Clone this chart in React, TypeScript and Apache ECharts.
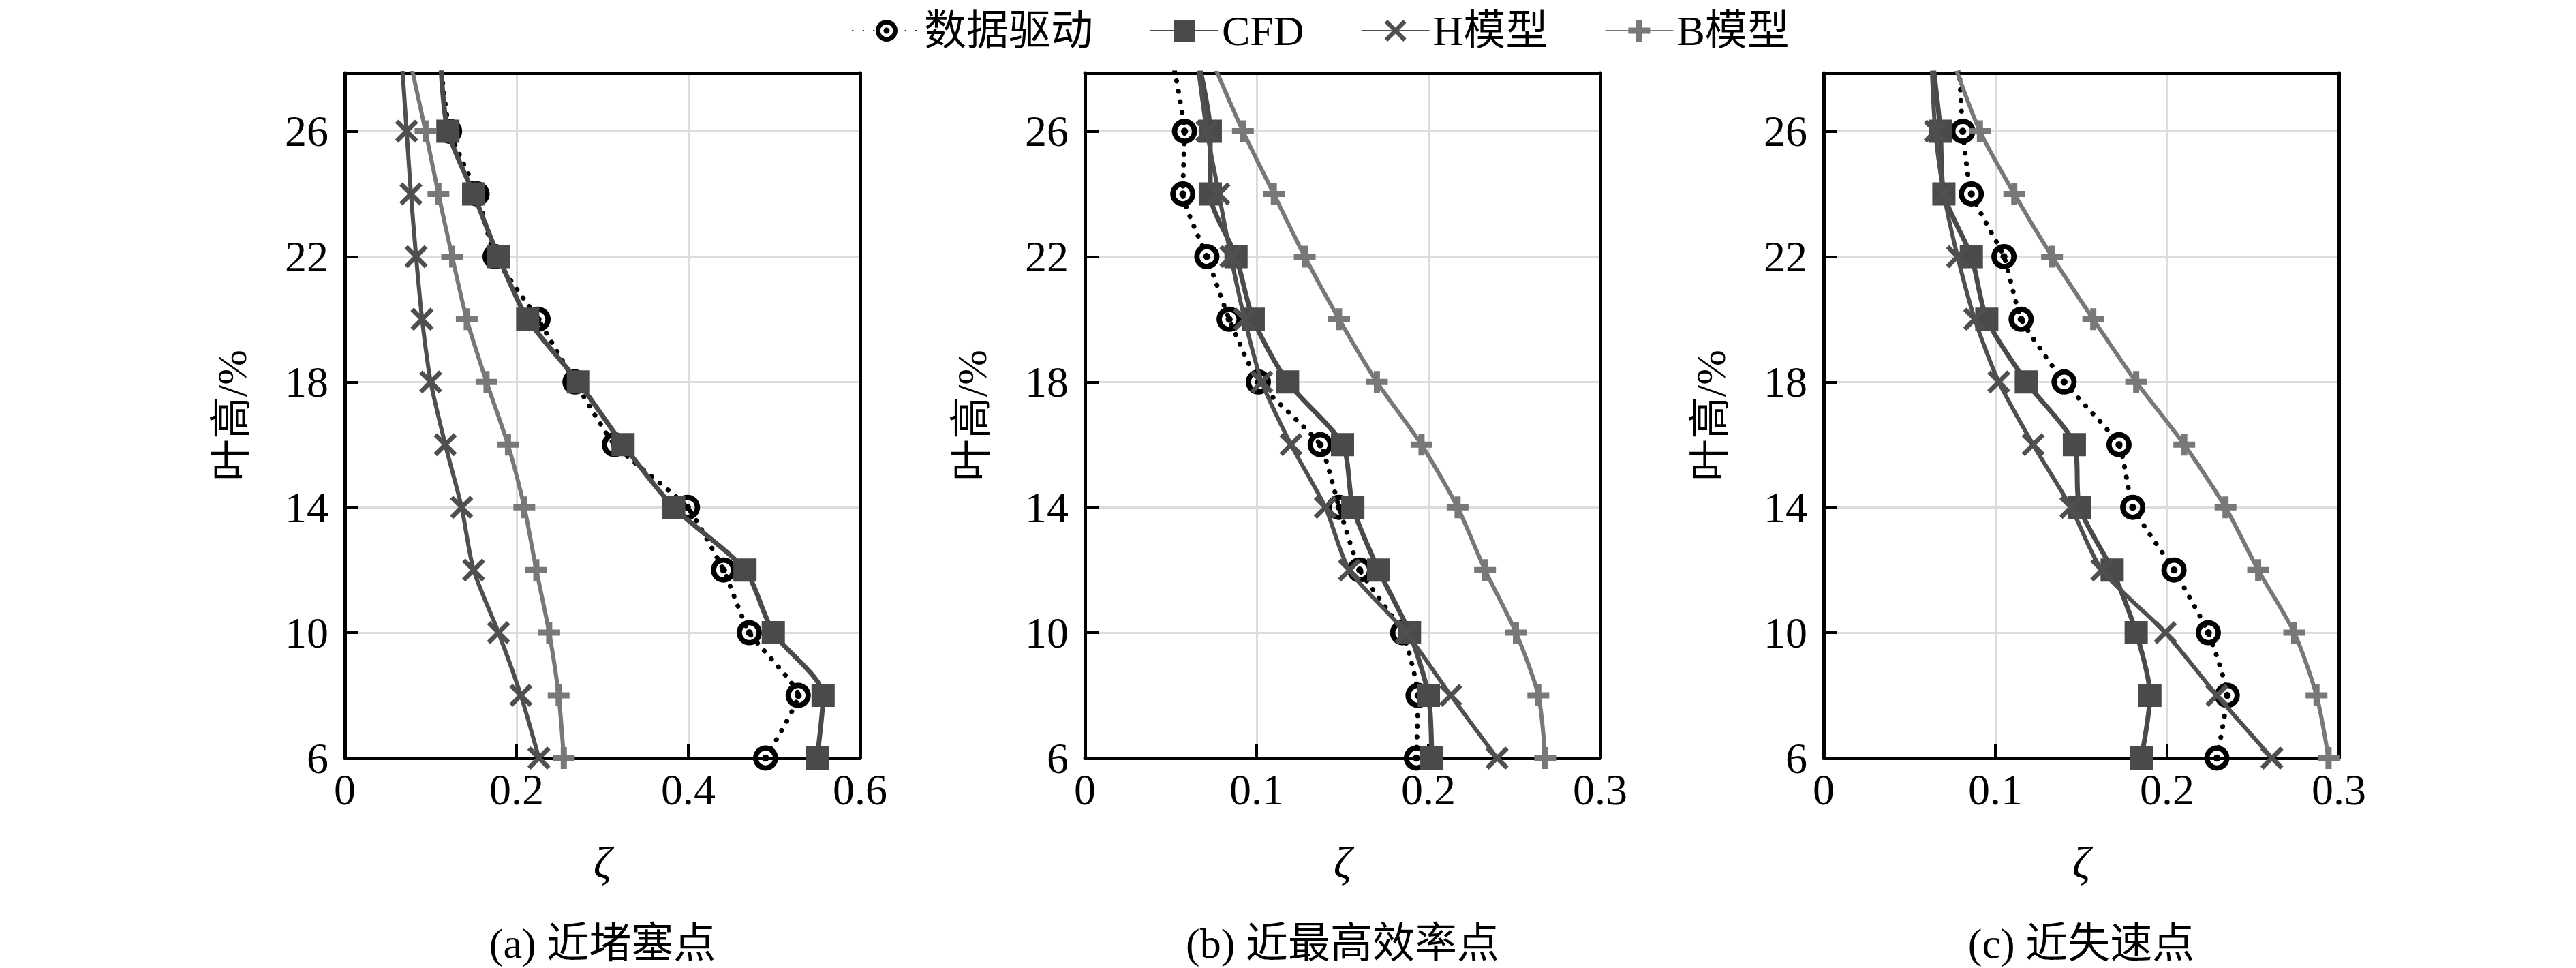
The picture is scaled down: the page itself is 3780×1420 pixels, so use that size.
import React, { useEffect, useRef } from 'react';
import * as echarts from 'echarts';

const heights = [6, 8, 10, 12, 14, 16, 18, 20, 22, 24, 26, 28];
const yTicks = [6, 10, 14, 18, 22, 26];
const seriesNames = ['数据驱动', 'CFD', 'H模型', 'B模型'];
const panelTitles = ['(a) 近堵塞点', '(b) 近最高效率点', '(c) 近失速点'];
const xMaxes = [0.6, 0.3, 0.3];
const xIntervals = [0.2, 0.1, 0.1];

// panel (a) 近堵塞点, values from 6% to 28% blade height
const aData = [0.490, 0.528, 0.471, 0.441, 0.399, 0.314, 0.268, 0.225, 0.175, 0.154, 0.122, 0.112];
const aCFD = [0.550, 0.557, 0.499, 0.466, 0.383, 0.324, 0.272, 0.213, 0.179, 0.150, 0.120, 0.112];
const aH = [0.226, 0.205, 0.179, 0.150, 0.136, 0.117, 0.100, 0.090, 0.083, 0.077, 0.072, 0.067];
const aB = [0.255, 0.249, 0.238, 0.223, 0.209, 0.190, 0.165, 0.142, 0.125, 0.109, 0.094, 0.078];

// panel (b) 近最高效率点
const bData = [0.193, 0.194, 0.185, 0.160, 0.148, 0.137, 0.101, 0.084, 0.071, 0.057, 0.058, 0.052];
const bCFD = [0.202, 0.200, 0.189, 0.171, 0.156, 0.150, 0.118, 0.098, 0.088, 0.073, 0.073, 0.067];
const bH = [0.240, 0.213, 0.187, 0.154, 0.140, 0.120, 0.103, 0.093, 0.085, 0.078, 0.071, 0.066];
const bB = [0.268, 0.264, 0.251, 0.233, 0.217, 0.196, 0.170, 0.148, 0.128, 0.110, 0.092, 0.076];

// panel (c) 近失速点
const cData = [0.229, 0.235, 0.224, 0.204, 0.180, 0.172, 0.140, 0.115, 0.105, 0.086, 0.081, 0.079];
const cCFD = [0.185, 0.190, 0.182, 0.168, 0.149, 0.146, 0.118, 0.095, 0.086, 0.070, 0.068, 0.064];
const cH = [0.261, 0.229, 0.199, 0.162, 0.144, 0.122, 0.102, 0.088, 0.078, 0.070, 0.065, 0.063];
const cB = [0.294, 0.287, 0.274, 0.253, 0.234, 0.210, 0.182, 0.157, 0.133, 0.111, 0.091, 0.077];

const panels = [
  [aData, aCFD, aH, aB],
  [bData, bCFD, bH, bB],
  [cData, cCFD, cH, cB],
];

const FONT = "'Liberation Serif', 'Times New Roman', 'Noto Sans CJK SC', serif";

const ringSymbol =
  'path://M10,0 A10,10 0 1,1 10,20 A10,10 0 1,1 10,0 Z ' +
  'M10,4.2 A5.8,5.8 0 1,0 10,15.8 A5.8,5.8 0 1,0 10,4.2 Z ' +
  'M10,7.2 A2.8,2.8 0 1,1 10,12.8 A2.8,2.8 0 1,1 10,7.2 Z';
const crossSymbol =
  'path://M0,1.4 L1.4,0 L5,3.6 L8.6,0 L10,1.4 L6.4,5 L10,8.6 L8.6,10 L5,6.4 L1.4,10 L0,8.6 L3.6,5 Z';
const plusSymbol =
  'path://M3.6,0 L6.4,0 L6.4,3.6 L10,3.6 L10,6.4 L6.4,6.4 L6.4,10 L3.6,10 L3.6,6.4 L0,6.4 L0,3.6 L3.6,3.6 Z';

const styles = [
  {
    symbol: ringSymbol,
    symbolSize: 37,
    color: '#000000',
    lineStyle: { color: '#000000', width: 7, type: [0.5, 15], cap: 'round' },
    smooth: 0.15,
  },
  {
    symbol: 'rect',
    symbolSize: 34,
    color: '#4a4a4a',
    lineStyle: { color: '#4a4a4a', width: 7, type: 'solid' },
    smooth: 0.25,
  },
  {
    symbol: crossSymbol,
    symbolSize: 34,
    color: '#4f4f4f',
    lineStyle: { color: '#4f4f4f', width: 6, type: 'solid' },
    smooth: 0.25,
  },
  {
    symbol: plusSymbol,
    symbolSize: 32,
    color: '#787878',
    lineStyle: { color: '#787878', width: 6, type: 'solid' },
    smooth: 0.25,
  },
];

const gridLefts = [506, 1592, 2676];
const gridTop = 107;
const gridWidth = 756;
const gridHeight = 1005;
const Y_MIN = 6;
const Y_MAX = 27.86;

export default function App() {
  const ref = useRef<HTMLDivElement>(null);

  useEffect(() => {
    if (!ref.current) return;
    const chart = echarts.init(ref.current, undefined, { renderer: 'svg' });

    const grids = gridLefts.map((left) => ({
      left,
      top: gridTop,
      width: gridWidth,
      height: gridHeight,
      show: false,
    }));

    const frameLine = { show: true, onZero: false, lineStyle: { color: '#000', width: 5 } };

    const xAxes: any[] = [];
    const yAxes: any[] = [];
    gridLefts.forEach((_, i) => {
      xAxes.push({
        type: 'value',
        gridIndex: i,
        position: 'bottom',
        min: 0,
        max: xMaxes[i],
        interval: xIntervals[i],
        axisLine: frameLine,
        axisTick: { show: true, inside: true, length: 20, lineStyle: { color: '#000', width: 4 } },
        axisLabel: { show: true, margin: 14, color: '#000', fontSize: 64, fontFamily: FONT },
        splitLine: { show: true, lineStyle: { color: '#dcdcdc', width: 3 } },
      });
      yAxes.push({
        type: 'value',
        gridIndex: i,
        position: 'left',
        min: Y_MIN,
        max: Y_MAX,
        name: '叶高/%',
        nameLocation: 'middle',
        nameRotate: 90,
        nameGap: 135,
        nameTextStyle: { color: '#000', fontSize: 62, fontFamily: FONT },
        axisLine: frameLine,
        axisTick: {
          show: true,
          inside: true,
          length: 20,
          customValues: yTicks,
          lineStyle: { color: '#000', width: 4 },
        },
        axisLabel: {
          show: true,
          margin: 24,
          customValues: yTicks,
          color: '#000',
          fontSize: 64,
          fontFamily: FONT,
        },
        splitLine: { show: true, lineStyle: { color: '#dcdcdc', width: 3 } },
      });
    });
    // frame axes (top and right borders)
    gridLefts.forEach((_, i) => {
      xAxes.push({
        type: 'value',
        gridIndex: i,
        position: 'top',
        min: 0,
        max: xMaxes[i],
        interval: xIntervals[i],
        axisLine: frameLine,
        axisTick: { show: false },
        axisLabel: { show: false },
        splitLine: { show: false },
      });
      yAxes.push({
        type: 'value',
        gridIndex: i,
        position: 'right',
        min: Y_MIN,
        max: Y_MAX,
        axisLine: frameLine,
        axisTick: { show: false },
        axisLabel: { show: false },
        splitLine: { show: false },
      });
    });

    const series: any[] = [];
    panels.forEach((panel, pi) => {
      panel.forEach((vals, si) => {
        const st = styles[si];
        series.push({
          name: seriesNames[si],
          type: 'line',
          xAxisIndex: pi,
          yAxisIndex: pi,
          data: heights.map((h, k) => [vals[k], h]),
          symbol: st.symbol,
          symbolSize: st.symbolSize,
          symbolKeepAspect: true,
          showAllSymbol: true,
          smooth: st.smooth,
          clip: true,
          itemStyle: { color: st.color },
          lineStyle: st.lineStyle,
          emphasis: { disabled: true },
          z: 2 + si,
        });
      });
    });

    const graphics: any[] = [];
    gridLefts.forEach((left, i) => {
      const cx = left + gridWidth / 2;
      graphics.push({
        type: 'text',
        x: cx,
        y: 1265,
        style: {
          text: 'ζ',
          fontSize: 66,
          fontStyle: 'italic',
          fontFamily: FONT,
          fill: '#000',
          align: 'center',
          verticalAlign: 'middle',
        },
      });
      graphics.push({
        type: 'text',
        x: cx,
        y: 1384,
        style: {
          text: panelTitles[i],
          fontSize: 62,
          fontFamily: FONT,
          fill: '#000',
          align: 'center',
          verticalAlign: 'middle',
        },
      });
    });

    chart.setOption({
      animation: false,
      backgroundColor: '#ffffff',
      legend: {
        data: seriesNames,
        left: 1250,
        top: 14,
        padding: 0,
        itemWidth: 100,
        itemHeight: 40,
        itemGap: 83,
        textStyle: { color: '#000', fontSize: 62, fontFamily: FONT },
      },
      grid: grids,
      xAxis: xAxes,
      yAxis: yAxes,
      series,
      graphic: graphics,
    });

    return () => {
      chart.dispose();
    };
  }, []);

  return (
    <div
      ref={ref}
      style={{ position: 'absolute', left: 0, top: 0, width: 3780, height: 1420 }}
    />
  );
}
